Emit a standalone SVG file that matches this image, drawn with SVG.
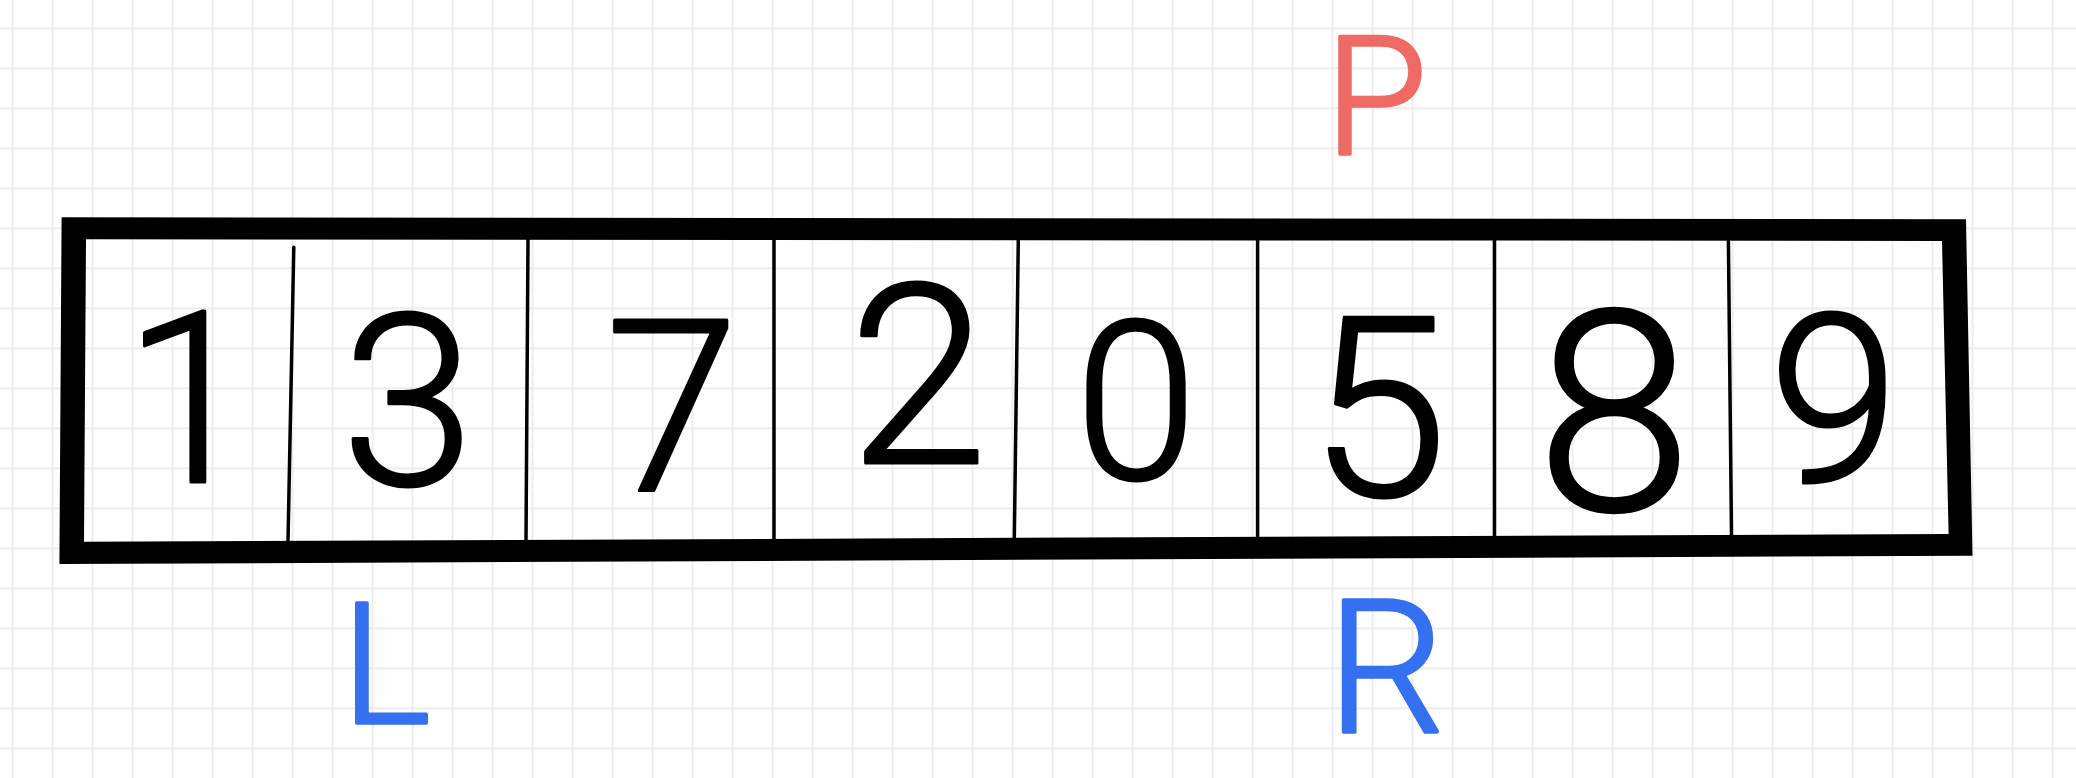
<svg xmlns="http://www.w3.org/2000/svg" width="2076" height="778" viewBox="0 0 2076 778">
  <defs>
    <pattern id="grid" x="-7.5" y="8.3" width="40" height="40" patternUnits="userSpaceOnUse">
      <path d="M0 20 H40 M20 0 V40" stroke="#e6e6e6" stroke-width="1.4" fill="none"/>
    </pattern>
    <style>
      .digit { font-family: Roboto, "Liberation Sans", sans-serif; font-weight: 300; fill: #000; stroke: #000; stroke-width: 3; stroke-linejoin: round; text-anchor: middle; }
      .ptr { font-family: Roboto, "Liberation Sans", sans-serif; font-weight: 300; stroke-width: 3.5; stroke-linejoin: round; text-anchor: middle; }
      .red { fill: #ee6a64; stroke: #ee6a64; }
      .blue { fill: #3470f0; stroke: #3470f0; }
      .divider { stroke: #000; stroke-width: 3.5; stroke-linecap: round; fill: none; }
    </style>
  </defs>
  <rect width="2076" height="778" fill="#ffffff"/>
  <rect width="2076" height="778" fill="url(#grid)"/>

  <g id="array-box">
    <path fill="#000" fill-rule="evenodd" d="M61.6 217.3 L1966 219.3 L1972.5 555.7 L59.4 564 Z M86 239.3 L84 541.7 L1948.6 534 L1942 241 Z"/>
  </g>

  <g id="connectors">
    <line class="divider" x1="293.8" y1="247.3" x2="288" y2="541"/>
    <line class="divider" x1="528" y1="239" x2="526" y2="541"/>
    <line class="divider" x1="774" y1="240" x2="774" y2="540"/>
    <line class="divider" x1="1018.3" y1="240" x2="1014.3" y2="539"/>
    <line class="divider" x1="1257.6" y1="240" x2="1257.6" y2="538"/>
    <line class="divider" x1="1494.5" y1="240" x2="1494.5" y2="536"/>
    <line class="divider" x1="1728.4" y1="241" x2="1731.5" y2="535"/>
  </g>

  <g id="cell-0"><text class="digit" x="190" y="482" font-size="240">1</text></g>
  <g id="cell-1"><text class="digit" x="408" y="485" font-size="240">3</text></g>
  <g id="cell-2"><text class="digit" x="672" y="490" font-size="240">7</text></g>
  <g id="cell-3"><text class="digit" x="918" y="463" font-size="250">2</text></g>
  <g id="cell-4"><text class="digit" x="1136" y="479" font-size="220">0</text></g>
  <g id="cell-5"><text class="digit" x="1378" y="496" font-size="250">5</text></g>
  <g id="cell-6"><text class="digit" x="1614" y="510" font-size="280">8</text></g>
  <g id="cell-7"><text class="digit" x="1834" y="482" font-size="235">9</text></g>

  <g id="pointer-P"><text class="ptr red" x="1376" y="154" font-size="166">P</text></g>
  <g id="pointer-L"><text class="ptr blue" x="386" y="723" font-size="169">L</text></g>
  <g id="pointer-R"><text class="ptr blue" x="1386" y="732" font-size="186">R</text></g>
</svg>
